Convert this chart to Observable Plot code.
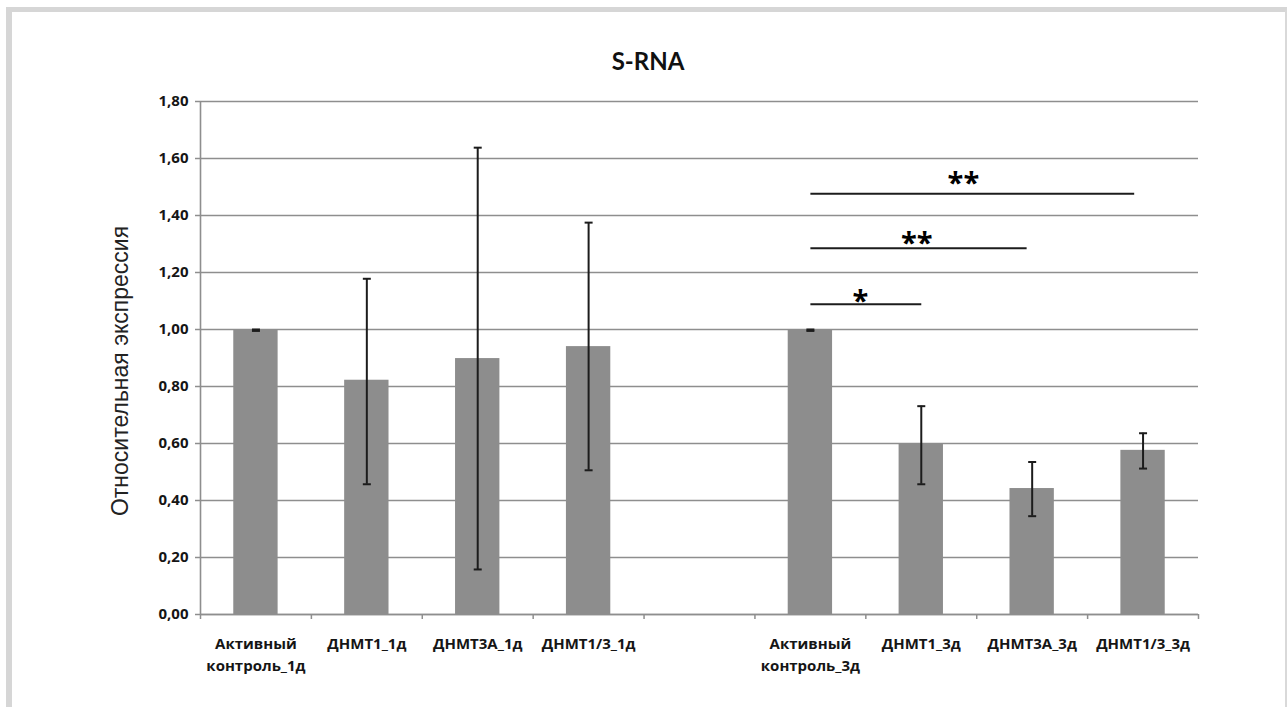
<!DOCTYPE html>
<html><head><meta charset="utf-8">
<script src="https://cdn.jsdelivr.net/npm/d3@7"></script>
<script src="https://cdn.jsdelivr.net/npm/@observablehq/plot@0.6"></script>
<style>
body{margin:0;background:#fff;}
#wrap{position:relative;width:1288px;height:707px;overflow:hidden;}
#frame{position:absolute;left:6px;top:7px;width:1273px;height:720px;border-top:5px solid #d6d6d6;border-left:6px solid #d6d6d6;border-right:2px solid #d9d9d9;pointer-events:none;}
#title{position:absolute;left:0;width:1296px;top:47px;text-align:center;font:bold 24px Lato,"Open Sans",sans-serif;color:#111;line-height:28px;}
#chart{position:absolute;left:0;top:0;}
</style></head>
<body>
<div id="wrap"><div id="chart"></div><div id="frame"></div><div id="title">S-RNA</div></div>
<script>
const categories = ["Активный\nконтроль_1д","ДНМТ1_1д","ДНМТ3А_1д","ДНМТ1/3_1д","","Активный\nконтроль_3д","ДНМТ1_3д","ДНМТ3А_3д","ДНМТ1/3_3д"];
const values  = [1.00, 0.822, 0.898, 0.940, null, 1.00, 0.597, 0.442, 0.576];
const errLow  = [0.995, 0.457, 0.158, 0.506, null, 0.995, 0.457, 0.345, 0.512];
const errHigh = [1.000, 1.178, 1.638, 1.375, null, 1.000, 0.731, 0.535, 0.636];
const yTicks = [0, 0.2, 0.4, 0.6, 0.8, 1.0, 1.2, 1.4, 1.6, 1.8];
const sigFrom = [5, 5, 5];
const sigTo = [6, 6.95, 7.92];
const sigY = [1.089, 1.285, 1.476];
const sigLabelX = [5.45, 5.96, 6.38];
const sigLabelY = [1.123, 1.326, 1.537];
const sigLabels = ["*", "**", "**"];
const yLabel = "Относительная экспрессия";

const data = categories.map((c, i) => ({i, label: c, value: values[i], lo: errLow[i], hi: errHigh[i]})).filter(d => d.value != null);
const sig = sigFrom.map((f, k) => ({from: f, to: sigTo[k], y: sigY[k], lx: sigLabelX[k], ly: sigLabelY[k], label: sigLabels[k]}));
const boundaries = d3.range(categories.length + 1).map(k => k - 0.5);
const labelTicks = categories.map((c, i) => i).filter(i => categories[i] !== "");
const hline = {draw(ctx, size) { const w = Math.sqrt(size / Math.PI); ctx.moveTo(-w, 0); ctx.lineTo(w, 0); }};
const gridColor = "#8e8e8e";
const dark = "#1c1c1c";

const chart = Plot.plot({
  width: 1288, height: 707,
  marginTop: 101, marginBottom: 93, marginLeft: 200, marginRight: 90,
  x: {type: "linear", domain: [-0.5, categories.length - 0.5]},
  y: {domain: [0, 1.8]},
  style: {fontFamily: "'Open Sans', sans-serif", fontSize: "15px", fontWeight: "bold", color: "#151515", background: "transparent"},
  marks: [
    Plot.gridY(yTicks, {stroke: gridColor, strokeOpacity: 1, strokeWidth: 1.6}),
    Plot.rectY(data, {x1: d => d.i - 0.2, x2: d => d.i + 0.2, y1: 0, y2: "value", fill: "#8d8d8d"}),
    Plot.ruleX(data, {x: "i", y1: "lo", y2: "hi", stroke: dark, strokeWidth: 2}),
    Plot.dot(data, {x: "i", y: "lo", symbol: hline, r: 4, stroke: dark, strokeWidth: 2}),
    Plot.dot(data, {x: "i", y: "hi", symbol: hline, r: 4, stroke: dark, strokeWidth: 2}),
    Plot.ruleY([0], {stroke: gridColor, strokeWidth: 1.6}),
    Plot.ruleX([-0.5], {y1: 0, y2: 1.8, stroke: gridColor, strokeWidth: 1.6}),
    Plot.axisY({ticks: yTicks, tickFormat: d => d3.format(".2f")(d).replace(".", ","), tickSize: 5, tickPadding: 7, stroke: gridColor, strokeWidth: 1.5, fill: "#151515", fontSize: 15, label: null}),
    Plot.axisX({ticks: boundaries, tickSize: 5, tickFormat: () => "", stroke: gridColor, strokeWidth: 1.5, label: null}),
    Plot.axisX({ticks: labelTicks, tickSize: 0, tickPadding: 19, tickFormat: i => categories[i], fill: "#151515", fontSize: 15, lineHeight: 1.45, label: null}),
    Plot.link(sig, {x1: "from", x2: "to", y1: "y", y2: "y", stroke: dark, strokeWidth: 2}),
    Plot.text(sig, {x: "lx", y: "ly", text: "label", fontSize: 29, fontWeight: "bold", fill: "#000", dy: 7}),
    Plot.text([yLabel], {frameAnchor: "left", textAnchor: "middle", rotate: -90, dx: -80, dy: 13, fontSize: 23, fontWeight: "normal", fontFamily: "'Liberation Sans', Arial, sans-serif", fill: "#222"})
  ]
});
document.getElementById("chart").appendChild(chart);
</script>
</body></html>
